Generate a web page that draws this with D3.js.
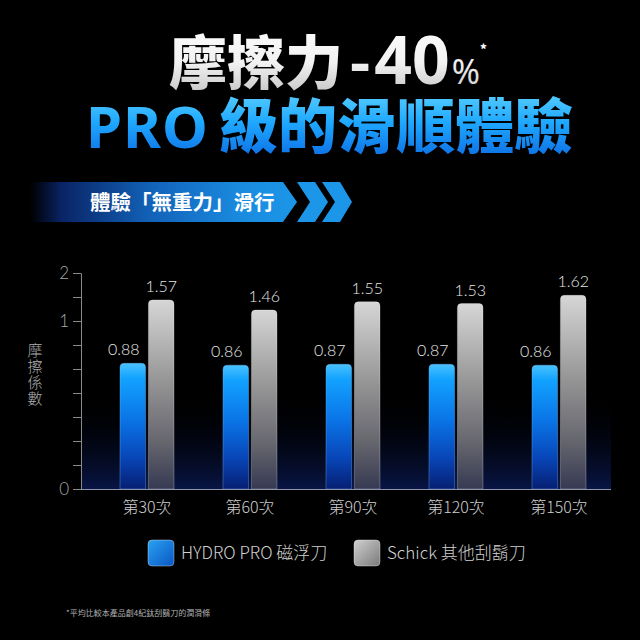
<!DOCTYPE html>
<html><head><meta charset="utf-8">
<script src="https://cdn.jsdelivr.net/npm/d3@7"></script>
<style>
html,body{margin:0;padding:0;background:#000;}
svg{display:block;}
</style></head>
<body>
<script>
// ---- data ----
const categories = ["第30次","第60次","第90次","第120次","第150次"];
const hydroValues = [0.88,0.86,0.87,0.87,0.86];
const schickValues = [1.57,1.46,1.55,1.53,1.62];
const seriesNames = ["HYDRO PRO 磁浮刀","Schick 其他刮鬍刀"];
const axisTickLabels = ["0","","","","","","","1","","2"];
const yAxisTitle = ["摩","擦","係","數"];
const bannerText = "體驗「無重力」滑行";
const footnote = "*平均比較本產品創4紀鈦刮鬍刀的潤滑條";

const W = 640, H = 640;
const svg = d3.select("body").append("svg").attr("width", W).attr("height", H);
svg.append("rect").attr("width", W).attr("height", H).attr("fill", "#000");
const defs = svg.append("defs");

function linGrad(id, stops, x1="0",y1="0",x2="0",y2="1") {
  const g = defs.append("linearGradient").attr("id", id)
    .attr("x1", x1).attr("y1", y1).attr("x2", x2).attr("y2", y2);
  stops.forEach(s => g.append("stop").attr("offset", s[0]).attr("stop-color", s[1]).attr("stop-opacity", s[2] == null ? 1 : s[2]));
  return g;
}
linGrad("titleGrad", [[0,"#ffffff"],[0.55,"#f2f2f2"],[1,"#b9b9b9"]]);
linGrad("subGrad", [[0,"#6fdcff"],[0.5,"#1ea8ff"],[1,"#0a64e0"]]);
linGrad("blueBar", [[0,"#49c2ff"],[0.12,"#12a2ff"],[0.45,"#0a74e6"],[0.75,"#0846b8"],[1,"#061f72"]]);
linGrad("grayBar", [[0,"#d6d6d6"],[0.4,"#9a9a9a"],[0.75,"#66666e"],[1,"#363a52"]]);
linGrad("plotGlow", [[0,"#000",0],[1,"#081545",1]]);
linGrad("bannerBody", [[0,"#0a1f5e",0],[0.12,"#0a2466",1],[0.45,"#1262b8",1],[0.8,"#1a8ce0",1],[1,"#1c96e8",1]], "0","0","1","0");
linGrad("bannerLine", [[0,"#3a7dff",0],[0.15,"#4a90ff",1],[0.6,"#7cc4ff",1],[1,"#2a9af0",1]], "0","0","1","0");
linGrad("legBlue", [[0,"#2aa2f2"],[1,"#0a56c4"]], "0","0","1","1");
linGrad("legGray", [[0,"#d0d0d0"],[1,"#7a7a7a"]], "0","0","1","1");
const blur = defs.append("filter").attr("id","glow").attr("x","-20%").attr("y","-200%").attr("width","140%").attr("height","500%");
blur.append("feGaussianBlur").attr("stdDeviation", 3);

const cjk = "'Noto Sans CJK TC','Noto Sans CJK SC',sans-serif";
const latin = "'Lato','Noto Sans',sans-serif";

// ---- titles ----
const t1 = svg.append("text").attr("x", 169).attr("y", 84)
  .attr("fill", "url(#titleGrad)").attr("font-family", cjk).attr("font-weight", 900);
t1.append("tspan").attr("font-size", 58).text("摩擦力");
t1.append("tspan").attr("font-size", 58).attr("dx", 6).text("-");
t1.append("tspan").attr("font-size", 66).attr("font-family", "'Noto Sans',sans-serif").attr("font-weight", 700).attr("dx", 3).text("40");
t1.append("tspan").attr("font-size", 34).attr("font-family", "'Noto Sans',sans-serif").attr("font-weight", 400).attr("dx", 2).text("%");
t1.append("tspan").attr("font-size", 13).attr("dy", -30).text("*");

const t2 = svg.append("text").attr("x", 86).attr("y", 148)
  .attr("fill", "url(#subGrad)").attr("font-family", cjk).attr("font-weight", 900);
t2.append("tspan").attr("font-size", 58).attr("font-family", "'Noto Sans',sans-serif").attr("font-weight", 700).attr("letter-spacing", 1).text("PRO");
t2.append("tspan").attr("font-size", 59).attr("dx", 10).text("級的滑順體驗");

// ---- banner ----
const bTop = 182, bBot = 222, bMid = 202;
const banner = svg.append("g");
banner.append("polygon").attr("fill", "url(#bannerBody)")
  .attr("points", [[30,bTop],[283,bTop],[297,bMid],[283,bBot],[30,bBot]].join(" "));
[[297,315,328,310],[322,340,352,335]].forEach(c => {
  banner.append("polygon").attr("fill", "#1c96e8")
    .attr("points", [[c[0],bTop],[c[1],bTop],[c[2],bMid],[c[1],bBot],[c[0],bBot],[c[3],bMid]].join(" "));
});
[bTop, bBot].forEach(yy => {
  banner.append("line").attr("x1", 30).attr("x2", 283).attr("y1", yy).attr("y2", yy)
    .attr("stroke", "url(#bannerLine)").attr("stroke-width", 5).attr("opacity", 0.7).attr("filter", "url(#glow)");
  banner.append("line").attr("x1", 30).attr("x2", 283).attr("y1", yy).attr("y2", yy)
    .attr("stroke", "url(#bannerLine)").attr("stroke-width", 1.2);
});
banner.append("text").attr("x", 90).attr("y", 209.5).attr("fill", "#fff")
  .attr("font-family", cjk).attr("font-weight", 700).attr("font-size", 20.5).text(bannerText);

// ---- chart ----
const x0 = d3.scaleBand().domain(categories).range([120, 586]).paddingInner(0.4757).paddingOuter(0);
const x1 = d3.scaleBand().domain(["hydro","schick"]).range([0, x0.bandwidth()]).paddingInner(0.1);
const y = d3.scaleLinear().domain([-0.4875, 1.863]).range([489, 273]);
const yAxisScale = d3.scaleLinear().domain([0, axisTickLabels.length - 1]).range([489, 273]);

// plot glow
svg.append("rect").attr("x", 81).attr("y", 390).attr("width", 530).attr("height", 99).attr("fill", "url(#plotGlow)");

const rows = categories.map((c, i) => ({cat: c, hydro: hydroValues[i], schick: schickValues[i]}));

function topRounded(x, yTop, w, yBase, r) {
  return `M${x},${yBase}V${yTop + r}Q${x},${yTop} ${x + r},${yTop}H${x + w - r}Q${x + w},${yTop} ${x + w},${yTop + r}V${yBase}Z`;
}

const groups = svg.append("g").selectAll("g").data(rows).join("g")
  .attr("transform", d => `translate(${x0(d.cat)},0)`);
const keys = [{k:"hydro", fill:"url(#blueBar)", stroke:"rgba(120,190,255,0.35)", shift:-9},
              {k:"schick", fill:"url(#grayBar)", stroke:"rgba(255,255,255,0.25)", shift:0}];
keys.forEach(s => {
  groups.append("path")
    .attr("d", d => topRounded(x1(s.k), y(d[s.k]), x1.bandwidth(), y(y.domain()[0]), 4))
    .attr("fill", s.fill).attr("stroke", s.stroke).attr("stroke-width", 1);
  groups.append("text")
    .attr("x", x1(s.k) + x1.bandwidth() / 2 + s.shift).attr("y", d => y(d[s.k]) - 8)
    .attr("text-anchor", "middle").attr("fill", "#e6e6e6")
    .attr("font-family", latin).attr("font-weight", 300).attr("font-size", 16)
    .text(d => d[s.k].toFixed(2));
});

// y axis
const yAxis = svg.append("g").attr("transform", "translate(81,0)")
  .call(d3.axisLeft(yAxisScale).tickValues(d3.range(axisTickLabels.length))
    .tickSize(8).tickSizeOuter(0).tickPadding(4).tickFormat(i => axisTickLabels[i]));
yAxis.select(".domain").attr("stroke", "#8a8a8a");
yAxis.selectAll(".tick line").attr("stroke", "#8a8a8a");
yAxis.selectAll(".tick text").attr("fill", "#a8a8a8").attr("font-family", latin).attr("font-weight", 300).attr("font-size", 17);

// y title
svg.append("g").selectAll("text").data(yAxisTitle).join("text")
  .attr("x", 35).attr("y", (d, i) => 356 + i * 16)
  .attr("text-anchor", "middle").attr("fill", "#b0b0b0")
  .attr("font-family", cjk).attr("font-weight", 300).attr("font-size", 15).text(d => d);

// x axis
svg.append("line").attr("x1", 81).attr("x2", 611).attr("y1", 489.5).attr("y2", 489.5)
  .attr("stroke", "#8f95ab").attr("stroke-width", 1);
const xAxis = svg.append("g").attr("transform", "translate(0,489)")
  .call(d3.axisBottom(x0).tickSize(0).tickPadding(13));
xAxis.select(".domain").remove();
xAxis.selectAll(".tick text").attr("fill", "#cfcfcf").attr("font-family", cjk).attr("font-weight", 300).attr("font-size", 16);

// legend
const legend = svg.append("g");
const legItems = [{name: seriesNames[0], fill: "url(#legBlue)", x: 148},
                  {name: seriesNames[1], fill: "url(#legGray)", x: 354}];
legItems.forEach(l => {
  legend.append("rect").attr("x", l.x).attr("y", 540).attr("width", 26).attr("height", 26).attr("rx", 4)
    .attr("fill", l.fill).attr("stroke", "rgba(255,255,255,0.35)").attr("stroke-width", 1);
  legend.append("text").attr("x", l.x + 33).attr("y", 559).attr("fill", "#d0d0d0")
    .attr("font-family", cjk).attr("font-weight", 300).attr("font-size", 17).text(l.name);
});

// footnote
svg.append("text").attr("x", 66).attr("y", 616).attr("fill", "#b0b0b0")
  .attr("font-family", cjk).attr("font-size", 8).text(footnote);
</script>
</body></html>
